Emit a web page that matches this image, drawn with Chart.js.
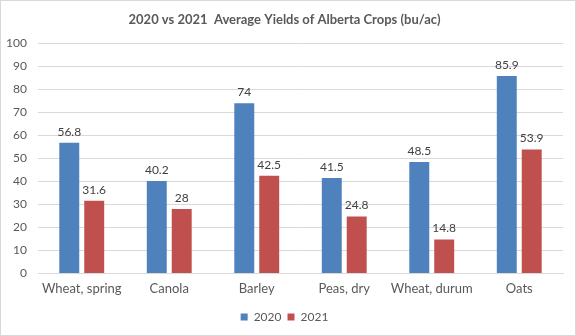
<!DOCTYPE html>
<html>
<head>
<meta charset="utf-8">
<script src="https://cdn.jsdelivr.net/npm/chart.js@4"></script>
<style>
  html, body { margin: 0; padding: 0; background: #fff; }
  #wrap { width: 576px; height: 336px; }
</style>
</head>
<body>
<div id="wrap"><canvas id="yieldChart" width="576" height="336"></canvas></div>
<script>
  // Average yields per crop, bushels per acre
  const crops = ['Wheat, spring', 'Canola', 'Barley', 'Peas, dry', 'Wheat, durum', 'Oats'];
  const yields2020 = [56.8, 40.2, 74, 41.5, 48.5, 85.9];
  const yields2021 = [31.6, 28, 42.5, 24.8, 14.8, 53.9];
  const yTicks = [0, 10, 20, 30, 40, 50, 60, 70, 80, 90, 100];

  const FONT = 'Lato, "Open Sans", sans-serif';
  const TEXT = '#595959';

  // Value labels drawn just above each bar
  const barValues = {
    id: 'barValues',
    afterDatasetsDraw(chart) {
      const ctx = chart.ctx;
      ctx.save();
      ctx.font = '12px ' + FONT;
      ctx.fillStyle = '#404040';
      ctx.textAlign = 'center';
      ctx.textBaseline = 'bottom';
      chart.data.datasets.forEach((ds, i) => {
        chart.getDatasetMeta(i).data.forEach((bar, j) => {
          ctx.fillText(String(ds.data[j]), bar.x, bar.y - 5);
        });
      });
      ctx.restore();
    }
  };

  // Thin frame round the whole chart
  const frame = {
    id: 'frame',
    beforeDraw(chart) {
      const ctx = chart.ctx;
      ctx.save();
      ctx.fillStyle = '#fff';
      ctx.fillRect(0, 0, chart.width, chart.height);
      ctx.strokeStyle = '#d9d9d9';
      ctx.lineWidth = 1;
      ctx.strokeRect(0.5, 0.5, chart.width - 1, chart.height - 1);
      ctx.restore();
    }
  };

  const yieldChart = new Chart(document.getElementById('yieldChart').getContext('2d'), {
    type: 'bar',
    data: {
      labels: crops,
      datasets: [
        { label: '2020', data: yields2020, backgroundColor: '#4f81bd' },
        { label: '2021', data: yields2021, backgroundColor: '#c0504d' }
      ]
    },
    options: {
      responsive: false,
      animation: false,
      devicePixelRatio: 1,
      categoryPercentage: 0.57,
      barPercentage: 0.8,
      layout: { padding: { left: 6, right: 13, top: 0, bottom: 3 } },
      scales: {
        x: {
          grid: { display: false, drawTicks: false },
          border: { color: '#d9d9d9' },
          ticks: {
            color: TEXT,
            font: { family: FONT, size: 13 },
            padding: 8,
            maxRotation: 0,
            minRotation: 0,
            autoSkip: false
          }
        },
        y: {
          min: 0,
          max: 100,
          afterBuildTicks(scale) { scale.ticks = yTicks.map(v => ({ value: v })); },
          afterFit(scale) { scale.width = 32; },
          grid: { color: '#d9d9d9', drawTicks: false },
          border: { display: false },
          ticks: { color: TEXT, font: { family: FONT, size: 12 }, padding: 11 }
        }
      },
      plugins: {
        title: {
          display: true,
          text: '2020 vs 2021  Average Yields of Alberta Crops (bu/ac)',
          color: TEXT,
          font: { family: FONT, size: 13, weight: 'bold' },
          padding: { top: 12, bottom: 16 }
        },
        legend: {
          position: 'bottom',
          labels: {
            color: TEXT,
            font: { family: FONT, size: 12 },
            boxWidth: 7,
            boxHeight: 7,
            padding: 6
          }
        },
        tooltip: { enabled: false }
      }
    },
    plugins: [frame, barValues]
  });
</script>
</body>
</html>
